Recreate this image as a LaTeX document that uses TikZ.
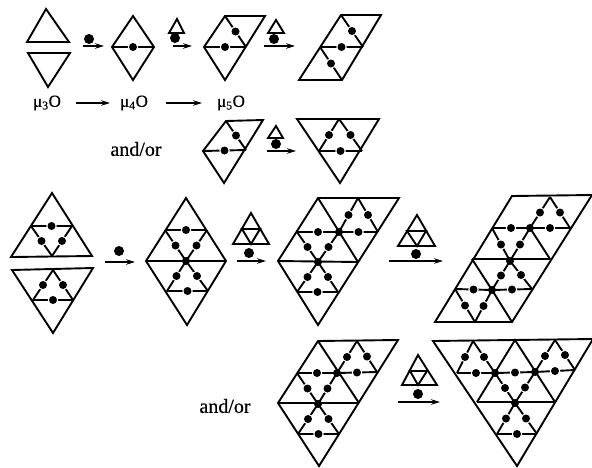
\documentclass[tikz,border=0pt]{standalone}
\usepackage{fontspec}
\setmainfont[FakeBold=0.5]{Liberation Serif}
\usetikzlibrary{arrows.meta}
\tikzset{
	wire/.style={line width=1.9pt},
	rxn/.style={line width=1.4pt, -{Stealth[length=9pt, width=5.5pt]}},
	oatom/.style={shape=circle, fill=black, inner sep=0pt, minimum size=8pt},
	oatomgap/.style={shape=circle, fill=white, inner sep=0pt, minimum size=10.5pt},
	addatom/.style={shape=circle, fill=black, inner sep=0pt, minimum size=10pt},
	label/.style={inner sep=0pt, font=\fontsize{17}{20}\selectfont},
	word/.style={inner sep=0pt, font=\fontsize{20}{24}\selectfont}
}
% line with an oxygen in the middle of it
\newcommand{\bond}[2]{\draw[wire] #1 -- #2 node[oatomgap, midway]{} node[oatom, midway]{};}
% reaction arrow with its added atom
\newcommand{\rxn}[6]{\coordinate (#1a) at (#2, #4); \coordinate (#1b) at (#3, #4); \draw[rxn] (#1a) -- (#1b); \node[addatom] (#1atom) at (#5, #6){};}
\begin{document}
\begin{tikzpicture}[x=1pt, y=-1pt]
	\useasboundingbox (0,0) rectangle (592,467);
	% Top row:
	\draw[wire] (46,9) -- (27,42) -- (69,42) -- cycle;
	\draw[wire] (28,53) -- (70,53) -- (48,87) -- cycle;
	\rxn{ra}{83}{104}{46}{89}{39}
	\draw[wire] (112,47) -- (133,16) -- (154,47) -- (133,80) -- cycle;
	\bond{(112,47)}{(154,47)}
	\draw[wire] (177,19) -- (169,33) -- (184,33) -- cycle;
	\rxn{rb}{173}{192}{46}{175}{38}
	\draw[wire] (204,47) -- (225,16) -- (265,16) -- (225,80) -- cycle;
	\bond{(204,47)}{(246,47)}
	\bond{(225,16)}{(246,47)}
	\draw[wire] (276,20) -- (268,33) -- (284,33) -- cycle;
	\rxn{rc}{264}{295}{46}{274}{39}
	\draw[wire] (341,15) -- (381,15) -- (342,80) -- (299,80) -- cycle;
	\bond{(320,47)}{(363,47)}
	\bond{(341,15)}{(363,47)}
	\bond{(320,47)}{(342,80)}
	% Formulas:
	\node[label] (muthree) at (47,103){μ\textsubscript{3}O};
	\node[label] (mufour) at (134,103){μ\textsubscript{4}O};
	\node[label] (mufive) at (231,103){μ\textsubscript{5}O};
	\draw[rxn] (muthree) ++(29,0) -- ++(34,0);
	\draw[rxn] (mufour) ++(32,0) -- ++(36,0);
	% Second row:
	\node[word] (andora) at (136,149){and/or};
	\draw[wire] (203,151) -- (226,121) -- (263,120) -- (224,183) -- cycle;
	\bond{(203,151)}{(246,150)}
	\bond{(226,121)}{(246,150)}
	\draw[wire] (276,126) -- (268,138) -- (283,138) -- cycle;
	\rxn{rd}{267}{296}{151}{276}{144}
	\draw[wire] (297,119) -- (379,119) -- (340,183) -- cycle;
	\bond{(319,151)}{(362,151)}
	\bond{(339,119)}{(319,151)}
	\bond{(339,119)}{(362,151)}
	% Third row:
	\draw[wire] (52,193) -- (11,257) -- (92,256) -- cycle;
	\bond{(31,226)}{(72,226)}
	\bond{(31,226)}{(52,256)}
	\bond{(72,226)}{(52,256)}
	\draw[wire] (12,270) -- (93,268) -- (53,333) -- cycle;
	\bond{(53,270)}{(33,300)}
	\bond{(53,270)}{(73,300)}
	\bond{(33,300)}{(73,300)}
	\rxn{re}{105}{135}{262}{119}{251}
	\draw[wire] (146,261) -- (186,198) -- (226,261) -- (187,325) -- cycle;
	\draw[wire] (146,261) -- (226,261);
	\bond{(165,230)}{(207,230)}
	\bond{(165,230)}{(186,261)}
	\bond{(207,230)}{(186,261)}
	\bond{(186,261)}{(167,291)}
	\bond{(186,261)}{(208,291)}
	\bond{(167,291)}{(208,291)}
	\node[oatom] (ocentera) at (186,261){};
	\draw[wire] (251,213) -- (233,244) -- (269,244) -- cycle;
	\draw[wire] (242,229) -- (260,229) -- (251,244) -- cycle;
	\rxn{rf}{237}{266}{261}{249}{253}
	\draw[wire] (318,198) -- (399,198) -- (318,325) -- (278,261) -- cycle;
	\draw[wire] (278,261) -- (358,262);
	\draw[wire] (318,198) -- (358,262);
	\bond{(297,232)}{(339,232)}
	\bond{(339,232)}{(378,232)}
	\bond{(358,198)}{(339,232)}
	\bond{(358,198)}{(378,232)}
	\bond{(297,232)}{(318,262)}
	\bond{(339,232)}{(318,262)}
	\bond{(318,262)}{(297,292)}
	\bond{(318,262)}{(338,292)}
	\bond{(297,292)}{(338,292)}
	\node[oatom] (ocenterb) at (339,232){};
	\node[oatom] (ocenterc) at (318,262){};
	\draw[wire] (417,215) -- (398,246) -- (435,246) -- cycle;
	\draw[wire] (407,231) -- (426,231) -- (417,246) -- cycle;
	\rxn{rg}{389}{443}{261}{416}{254}
	\draw[wire] (512,196) -- (592,195) -- (512,322) -- (435,322) -- cycle;
	\draw[wire] (472,259) -- (550,259);
	\draw[wire] (530,228) -- (550,259);
	\draw[wire] (472,259) -- (492,290) -- (512,322);
	\bond{(550,197)}{(530,228)}
	\bond{(550,197)}{(570,228)}
	\bond{(492,228)}{(530,228)}
	\bond{(530,228)}{(570,228)}
	\bond{(492,228)}{(510,261)}
	\bond{(530,228)}{(510,261)}
	\bond{(510,261)}{(492,290)}
	\bond{(510,261)}{(532,289)}
	\bond{(455,289)}{(492,290)}
	\bond{(492,290)}{(532,289)}
	\bond{(455,289)}{(475,322)}
	\bond{(492,290)}{(475,322)}
	\node[oatom] (ocenterd) at (530,228){};
	\node[oatom] (ocentere) at (510,261){};
	\node[oatom] (ocenterf) at (492,290){};
	% Fourth row:
	\node[word] (andorb) at (225,406){and/or};
	\draw[wire] (318,341) -- (398,340) -- (319,466) -- (278,403) -- cycle;
	\draw[wire] (278,403) -- (359,403);
	\draw[wire] (318,341) -- (359,403);
	\bond{(297,373)}{(337,373)}
	\bond{(337,373)}{(377,372)}
	\bond{(357,341)}{(337,373)}
	\bond{(357,341)}{(377,372)}
	\bond{(297,373)}{(318,404)}
	\bond{(337,373)}{(318,404)}
	\bond{(318,404)}{(298,434)}
	\bond{(318,404)}{(339,434)}
	\bond{(298,434)}{(339,434)}
	\node[oatom] (ocenterg) at (337,373){};
	\node[oatom] (ocenterh) at (318,404){};
	\draw[wire] (418,355) -- (402,385) -- (437,385) -- cycle;
	\draw[wire] (410,371) -- (427,371) -- (418,385) -- cycle;
	\rxn{rh}{398}{440}{402}{418}{394}
	\draw[wire] (433,341) -- (593,339) -- (517,466) -- cycle;
	\draw[wire] (477,402) -- (555,402);
	\draw[wire] (477,402) -- (515,340) -- (555,402);
	\bond{(473,341)}{(457,373)}
	\bond{(473,341)}{(495,373)}
	\bond{(457,373)}{(495,373)}
	\bond{(495,373)}{(535,372)}
	\bond{(535,372)}{(575,370)}
	\bond{(555,340)}{(535,372)}
	\bond{(555,340)}{(575,370)}
	\bond{(495,373)}{(515,403)}
	\bond{(535,372)}{(515,403)}
	\bond{(515,403)}{(497,434)}
	\bond{(515,403)}{(537,434)}
	\bond{(497,434)}{(537,434)}
	\node[oatom] (ocenteri) at (495,373){};
	\node[oatom] (ocenterj) at (535,372){};
	\node[oatom] (ocenterk) at (515,403){};
\end{tikzpicture}
\end{document}
